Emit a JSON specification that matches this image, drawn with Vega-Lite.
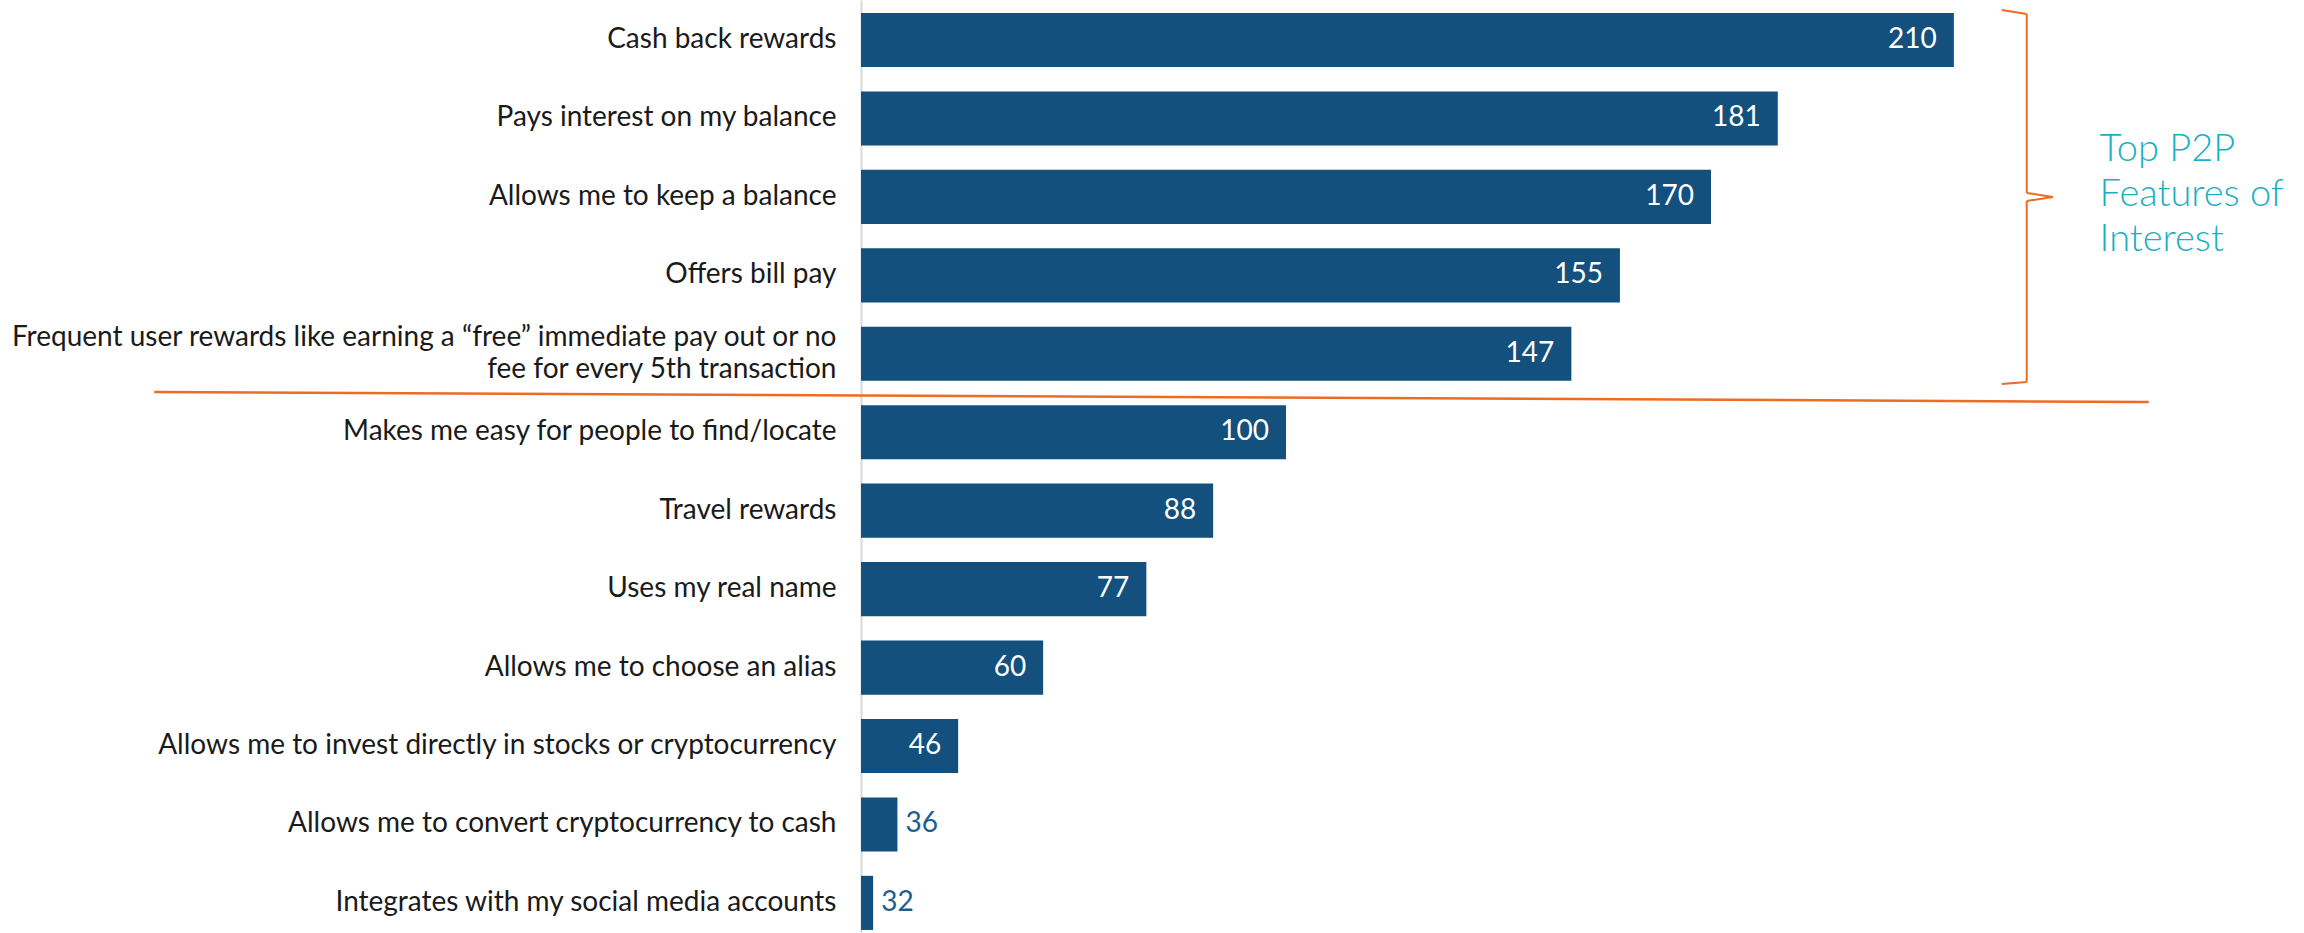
{
  "$schema": "https://vega.github.io/schema/vega-lite/v6.json",
  "autosize": {"type": "none"},
  "padding": {"left": 861, "top": 0, "right": 168, "bottom": 0},
  "width": 1275,
  "height": 933,
  "background": "white",
  "config": {"view": {"stroke": null}, "font": "Lato"},
  "datasets": {
    "features": [
      {"feature": "Cash back rewards", "count": 210},
      {"feature": "Pays interest on my balance", "count": 181},
      {"feature": "Allows me to keep a balance", "count": 170},
      {"feature": "Offers bill pay", "count": 155},
      {"feature": "Frequent user rewards like earning a “free” immediate pay out or no|fee for every 5th transaction", "count": 147},
      {"feature": "Makes me easy for people to find/locate", "count": 100},
      {"feature": "Travel rewards", "count": 88},
      {"feature": "Uses my real name", "count": 77},
      {"feature": "Allows me to choose an alias", "count": 60},
      {"feature": "Allows me to invest directly in stocks or cryptocurrency", "count": 46},
      {"feature": "Allows me to convert cryptocurrency to cash", "count": 36},
      {"feature": "Integrates with my social media accounts", "count": 32}
    ],
    "one": [{"note": "Top P2P Features of Interest"}]
  },
  "layer": [
    {
      "data": {"name": "features"},
      "mark": {"type": "bar", "color": "#13507D"},
      "encoding": {
        "y": {
          "field": "feature",
          "type": "nominal",
          "scale": {
            "domain": [
              "Cash back rewards",
              "Pays interest on my balance",
              "Allows me to keep a balance",
              "Offers bill pay",
              "Frequent user rewards like earning a “free” immediate pay out or no|fee for every 5th transaction",
              "Makes me easy for people to find/locate",
              "Travel rewards",
              "Uses my real name",
              "Allows me to choose an alias",
              "Allows me to invest directly in stocks or cryptocurrency",
              "Allows me to convert cryptocurrency to cash",
              "Integrates with my social media accounts"
            ],
            "paddingInner": 0.31,
            "paddingOuter": 0.102,
            "align": 0.81
          },
          "axis": {
            "title": null,
            "ticks": false,
            "domain": true,
            "domainColor": "#d9d9d9",
            "domainWidth": 2,
            "labelFont": "Lato",
            "labelFontSize": 28,
            "labelFontWeight": 400,
            "labelColor": "#1a1a1a",
            "labelPadding": 25,
            "labelLimit": 0,
            "labelLineHeight": 32,
            "labelOffset": {"condition": {"test": "indexof(datum.value, '|') >= 0", "value": -16}, "value": 0},
            "labelExpr": "split(datum.label, '|')"
          }
        },
        "x": {"field": "count", "type": "quantitative", "scale": {"domain": [30, 240], "nice": false, "zero": false}, "axis": null},
        "x2": {"datum": 30}
      }
    },
    {
      "data": {"name": "features"},
      "transform": [{"filter": "datum.count >= 40"}],
      "mark": {"type": "text", "align": "right", "baseline": "middle", "dx": -17, "color": "white", "fontSize": 28, "fontWeight": 400, "font": "Lato"},
      "encoding": {
        "y": {"field": "feature", "type": "nominal"},
        "x": {"field": "count", "type": "quantitative", "scale": {"domain": [30, 240], "nice": false, "zero": false}},
        "text": {"field": "count", "type": "quantitative"}
      }
    },
    {
      "data": {"name": "features"},
      "transform": [{"filter": "datum.count < 40"}],
      "mark": {"type": "text", "align": "left", "baseline": "middle", "dx": 8, "color": "#1F5C8F", "fontSize": 28, "fontWeight": 400, "font": "Lato"},
      "encoding": {
        "y": {"field": "feature", "type": "nominal"},
        "x": {"field": "count", "type": "quantitative", "scale": {"domain": [30, 240], "nice": false, "zero": false}},
        "text": {"field": "count", "type": "quantitative"}
      }
    },
    {
      "data": {"name": "one"},
      "mark": {"type": "rule", "color": "#EE6B22", "strokeWidth": 2.5},
      "encoding": {
        "x": {"datum": -86.4, "scale": {"domain": [30, 240], "nice": false, "zero": false}},
        "x2": {"datum": 242.1},
        "y": {"datum": "Frequent user rewards like earning a “free” immediate pay out or no|fee for every 5th transaction", "bandPosition": 1.205},
        "y2": {"datum": "Frequent user rewards like earning a “free” immediate pay out or no|fee for every 5th transaction", "bandPosition": 1.39}
      }
    },
    {
      "data": {"name": "one"},
      "mark": {"type": "rule", "color": "#EE6B22", "strokeWidth": 2},
      "encoding": {
        "x": {"datum": 217.9, "scale": {"domain": [30, 240], "nice": false, "zero": false}},
        "x2": {"datum": 222.0},
        "y": {"datum": "Cash back rewards", "bandPosition": -0.055},
        "y2": {"datum": "Cash back rewards", "bandPosition": 0.02}
      }
    },
    {
      "data": {"name": "one"},
      "mark": {"type": "rule", "color": "#EE6B22", "strokeWidth": 2},
      "encoding": {
        "x": {"datum": 222.0, "scale": {"domain": [30, 240], "nice": false, "zero": false}},
        "y": {"datum": "Cash back rewards", "bandPosition": 0.02},
        "y2": {"datum": "Allows me to keep a balance", "bandPosition": 0.427}
      }
    },
    {
      "data": {"name": "one"},
      "mark": {"type": "rule", "color": "#EE6B22", "strokeWidth": 2},
      "encoding": {
        "x": {"datum": 222.0, "scale": {"domain": [30, 240], "nice": false, "zero": false}},
        "x2": {"datum": 226.3},
        "y": {"datum": "Allows me to keep a balance", "bandPosition": 0.427},
        "y2": {"datum": "Allows me to keep a balance", "bandPosition": 0.5}
      }
    },
    {
      "data": {"name": "one"},
      "mark": {"type": "rule", "color": "#EE6B22", "strokeWidth": 2},
      "encoding": {
        "x": {"datum": 226.3, "scale": {"domain": [30, 240], "nice": false, "zero": false}},
        "x2": {"datum": 222.0},
        "y": {"datum": "Allows me to keep a balance", "bandPosition": 0.5},
        "y2": {"datum": "Allows me to keep a balance", "bandPosition": 0.575}
      }
    },
    {
      "data": {"name": "one"},
      "mark": {"type": "rule", "color": "#EE6B22", "strokeWidth": 2},
      "encoding": {
        "x": {"datum": 222.0, "scale": {"domain": [30, 240], "nice": false, "zero": false}},
        "y": {"datum": "Allows me to keep a balance", "bandPosition": 0.575},
        "y2": {"datum": "Frequent user rewards like earning a “free” immediate pay out or no|fee for every 5th transaction", "bandPosition": 1.02}
      }
    },
    {
      "data": {"name": "one"},
      "mark": {"type": "rule", "color": "#EE6B22", "strokeWidth": 2},
      "encoding": {
        "x": {"datum": 222.0, "scale": {"domain": [30, 240], "nice": false, "zero": false}},
        "x2": {"datum": 217.9},
        "y": {"datum": "Frequent user rewards like earning a “free” immediate pay out or no|fee for every 5th transaction", "bandPosition": 1.02},
        "y2": {"datum": "Frequent user rewards like earning a “free” immediate pay out or no|fee for every 5th transaction", "bandPosition": 1.057}
      }
    },
    {
      "data": {"name": "one"},
      "mark": {"type": "text", "align": "left", "baseline": "middle", "color": "#1BAFC4", "fontSize": 38, "fontWeight": 300, "font": "Lato", "lineHeight": 45},
      "encoding": {
        "x": {"datum": 234.0, "scale": {"domain": [30, 240], "nice": false, "zero": false}},
        "y": {"datum": "Allows me to keep a balance", "bandPosition": -0.368},
        "text": {"value": ["Top P2P", "Features of", "Interest"]}
      }
    }
  ]
}
